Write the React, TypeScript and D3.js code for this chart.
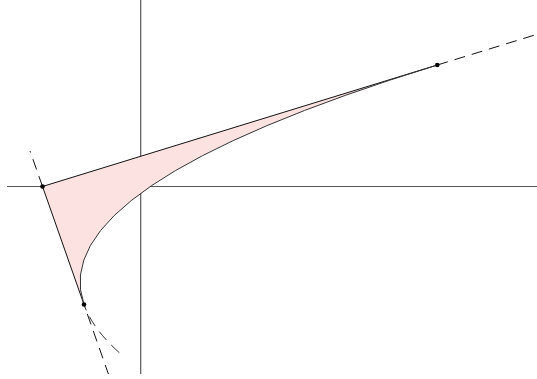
import React from "react";
import * as d3 from "d3";

// Plot window in math units
const xExtent = [-2.266, 6.717];
const yExtent = [-3.178, 3.161];

// Parabola x = f(y) given as a quadratic Bézier: two points on the curve and
// the intersection of their tangent lines
const curveStart = [-0.961, -2.0];
const tangentMeet = [-1.664, 0];
const curveEnd = [5.027, 2.059];

// Parameter at which the dashed continuation of the parabola below curveStart ends
const curveExtensionStart = -0.205;
// Dashed continuation of the tangent at curveStart (param along start -> meet)
const startTangentDash = [-0.6, 1.3];
// Dashed continuation of the tangent at curveEnd (param along meet -> end)
const endTangentDash = [1, 1.26];

const W = 537;
const H = 379;

type P = number[];

const lerp = (a: P, b: P, t: number): P => [a[0] + (b[0] - a[0]) * t, a[1] + (b[1] - a[1]) * t];

// Point on the Bézier at parameter t
const bez = (t: number): P => {
  const a = (1 - t) * (1 - t);
  const b = 2 * t * (1 - t);
  const c = t * t;
  return [
    a * curveStart[0] + b * tangentMeet[0] + c * curveEnd[0],
    a * curveStart[1] + b * tangentMeet[1] + c * curveEnd[1],
  ];
};

// Control point of the sub-curve between parameters s and t (polar form)
const blossom = (s: number, t: number): P => {
  const a = (1 - s) * (1 - t);
  const b = (1 - s) * t + s * (1 - t);
  const c = s * t;
  return [
    a * curveStart[0] + b * tangentMeet[0] + c * curveEnd[0],
    a * curveStart[1] + b * tangentMeet[1] + c * curveEnd[1],
  ];
};

export default function App() {
  const x = d3.scaleLinear().domain(xExtent).range([7, 537]);
  const y = d3.scaleLinear().domain(yExtent).range([374, 0]);
  const px = (p: P): [number, number] => [x(p[0]), y(p[1])];

  const subCurve = (s: number, t: number) => {
    const path = d3.path();
    const a = px(bez(s));
    const c = px(blossom(s, t));
    const b = px(bez(t));
    path.moveTo(a[0], a[1]);
    path.quadraticCurveTo(c[0], c[1], b[0], b[1]);
    return path.toString();
  };

  // Shaded region: tangent polygon closed by the curve
  const region = d3.path();
  {
    const s = px(curveStart);
    const m = px(tangentMeet);
    const e = px(curveEnd);
    region.moveTo(s[0], s[1]);
    region.lineTo(m[0], m[1]);
    region.lineTo(e[0], e[1]);
    region.quadraticCurveTo(m[0], m[1], s[0], s[1]);
    region.closePath();
  }

  const seg = (a: P, b: P) => {
    const [x1, y1] = px(a);
    const [x2, y2] = px(b);
    return { x1, y1, x2, y2 };
  };

  const dash = "11,7";
  const ink = "#111";

  return (
    <svg
      width={W}
      height={H}
      style={{ position: "absolute", left: 0, top: 0, background: "#fff" }}
    >
      <defs>
        <clipPath id="plot">
          <rect x={7} y={0} width={530} height={374} />
        </clipPath>
      </defs>

      {/* axes */}
      <line x1={x(xExtent[0])} x2={x(xExtent[1])} y1={y(0)} y2={y(0)} stroke="#555" strokeWidth={1.2} />
      <line x1={x(0)} x2={x(0)} y1={y(yExtent[1])} y2={y(yExtent[0])} stroke="#555" strokeWidth={1.2} />

      <g clipPath="url(#plot)">
        <path d={region.toString()} fill="#fde2e2" stroke="none" />

        {/* solid tangent segments */}
        <line {...seg(curveStart, tangentMeet)} stroke={ink} strokeWidth={1} />
        <line {...seg(tangentMeet, curveEnd)} stroke={ink} strokeWidth={1} />

        {/* the curve */}
        <path d={subCurve(0, 1)} fill="none" stroke="#333" strokeWidth={1} />

        {/* dashed continuations */}
        <path d={subCurve(curveExtensionStart, 0)} fill="none" stroke="#333" strokeWidth={1} strokeDasharray={dash} />
        <line
          {...seg(lerp(curveStart, tangentMeet, startTangentDash[0]), curveStart)}
          stroke={ink}
          strokeWidth={1}
          strokeDasharray={dash}
        />
        <line
          {...seg(tangentMeet, lerp(curveStart, tangentMeet, startTangentDash[1]))}
          stroke={ink}
          strokeWidth={1}
          strokeDasharray={dash}
        />
        <line
          {...seg(lerp(tangentMeet, curveEnd, endTangentDash[0]), lerp(tangentMeet, curveEnd, endTangentDash[1]))}
          stroke={ink}
          strokeWidth={1}
          strokeDasharray={dash}
        />
      </g>

      {/* points */}
      {[curveStart, tangentMeet, curveEnd].map((p, i) => (
        <circle key={i} cx={x(p[0])} cy={y(p[1])} r={2.3} fill="#000" />
      ))}
    </svg>
  );
}
